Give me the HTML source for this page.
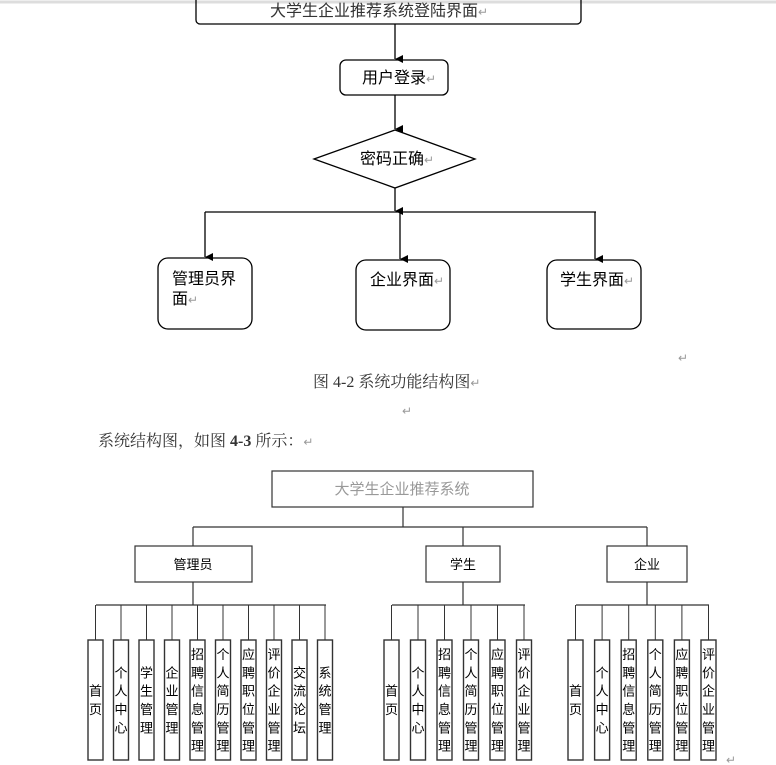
<!DOCTYPE html>
<html><head><meta charset="utf-8"><style>
html,body{margin:0;padding:0;background:#fff;}
svg{display:block;}
text{font-family:"Liberation Sans","Noto Sans CJK SC",sans-serif;}
.s{font-family:"Liberation Serif","Noto Serif CJK SC",serif;}
</style></head><body>
<svg width="776" height="765" viewBox="0 0 776 765" xmlns="http://www.w3.org/2000/svg">
<defs><marker id="a" markerWidth="8" markerHeight="8" refX="4" refY="8" orient="auto" markerUnits="userSpaceOnUse"><path d="M0,0 L8,0 L4,8 z" fill="#000"/></marker></defs>
<line x1="0" y1="2" x2="776" y2="2" stroke="#ddd" stroke-width="3"/>
<g fill="none" stroke="#000" stroke-width="1.3">
<rect x="196" y="-10" width="385" height="34" rx="4"/>
<line x1="395" y1="24" x2="395" y2="59" marker-end="url(#a)"/>
<rect x="340" y="60" width="108" height="35" rx="6"/>
<line x1="395" y1="95" x2="395" y2="129" marker-end="url(#a)"/>
<polygon points="314,159 395,130 475,159 395,188"/>
<line x1="395" y1="188" x2="395" y2="211" marker-end="url(#a)"/>
<line x1="205" y1="212" x2="596" y2="212"/>
<line x1="205" y1="212" x2="205" y2="257" marker-end="url(#a)"/>
<line x1="400" y1="212" x2="400" y2="259" marker-end="url(#a)"/>
<line x1="595" y1="212" x2="595" y2="259" marker-end="url(#a)"/>
<rect x="158" y="258" width="94" height="71" rx="10"/>
<rect x="356" y="260" width="94" height="70" rx="10"/>
<rect x="547" y="260" width="94" height="69" rx="10"/>
</g>
<g font-size="16" fill="#000">
<text x="270" y="16" fill="#333">大学生企业推荐系统登陆界面<tspan fill="#999" font-size="12">↵</tspan></text>
<text x="362" y="83">用户登录<tspan fill="#999" font-size="12">↵</tspan></text>
<text x="360" y="164">密码正确<tspan fill="#999" font-size="12">↵</tspan></text>
<text x="172" y="284">管理员界</text>
<text x="172" y="304">面<tspan fill="#999" font-size="12">↵</tspan></text>
<text x="370" y="285">企业界面<tspan fill="#999" font-size="12">↵</tspan></text>
<text x="560" y="285">学生界面<tspan fill="#999" font-size="12">↵</tspan></text>
</g>
<text x="678" y="362" font-size="12" fill="#999">↵</text>
<text class="s" x="313" y="387" font-size="16" fill="#333">图 4-2 系统功能结构图<tspan fill="#999" font-size="12">↵</tspan></text>
<text x="402" y="415" font-size="12" fill="#999">↵</text>
<text class="s" x="98" y="446" font-size="16" fill="#333">系统结构图，如图 <tspan font-weight="bold">4-3</tspan> 所示：<tspan fill="#999" font-size="12">↵</tspan></text>
<g fill="none" stroke="#333" stroke-width="1.2">
<rect x="272" y="471" width="261" height="36"/>
<line x1="403" y1="507" x2="403" y2="527"/>
<line x1="193" y1="527" x2="647" y2="527"/>
<line x1="193" y1="527" x2="193" y2="546"/>
<line x1="463" y1="527" x2="463" y2="546"/>
<line x1="647" y1="527" x2="647" y2="546"/>
<rect x="135" y="546" width="117" height="36"/>
<rect x="426" y="546" width="74" height="36"/>
<rect x="607" y="546" width="80" height="36"/>
<line x1="193" y1="582" x2="193" y2="605"/>
<line x1="463" y1="582" x2="463" y2="605"/>
<line x1="647" y1="582" x2="647" y2="605"/>
<line x1="96" y1="605" x2="326" y2="605"/>
<line x1="392" y1="605" x2="525" y2="605"/>
<line x1="576" y1="605" x2="709" y2="605"/>
</g>
<text x="402" y="494" font-size="15" fill="#999" text-anchor="middle">大学生企业推荐系统</text>
<text x="193" y="569" font-size="13" text-anchor="middle">管理员</text>
<text x="463" y="569" font-size="13" text-anchor="middle">学生</text>
<text x="647" y="569" font-size="13" text-anchor="middle">企业</text>
<g id="leaves" font-size="13" text-anchor="middle"></g>
<text x="726" y="764" font-size="12" fill="#999">↵</text>
</svg>
<script>
var g=document.getElementById('leaves'),ns='http://www.w3.org/2000/svg';
function leaf(x,t){
 var l=document.createElementNS(ns,'line');l.setAttribute('x1',x+7.5);l.setAttribute('x2',x+7.5);l.setAttribute('y1',605);l.setAttribute('y2',640);l.setAttribute('stroke','#333');g.appendChild(l);
 var r=document.createElementNS(ns,'rect');r.setAttribute('x',x);r.setAttribute('y',640);r.setAttribute('width',15);r.setAttribute('height',120);r.setAttribute('fill','none');r.setAttribute('stroke','#333');r.setAttribute('stroke-width','1.4');g.appendChild(r);
 var n=t.length,h=18.3,y0=700-(n*h)/2+14;
 for(var i=0;i<n;i++){var e=document.createElementNS(ns,'text');e.setAttribute('x',x+7.5);e.setAttribute('y',y0+i*h);e.textContent=t[i];g.appendChild(e);}
}
var A=['首页','个人中心','学生管理','企业管理','招聘信息管理','个人简历管理','应聘职位管理','评价企业管理','交流论坛','系统管理'];
A.forEach(function(t,i){leaf(88+i*25.5,t);});
var S=['首页','个人中心','招聘信息管理','个人简历管理','应聘职位管理','评价企业管理'];
S.forEach(function(t,i){leaf(384+i*26.5,t);});
var C=['首页','个人中心','招聘信息管理','个人简历管理','应聘职位管理','评价企业管理'];
C.forEach(function(t,i){leaf(568+i*26.6,t);});
</script>
</body></html>
